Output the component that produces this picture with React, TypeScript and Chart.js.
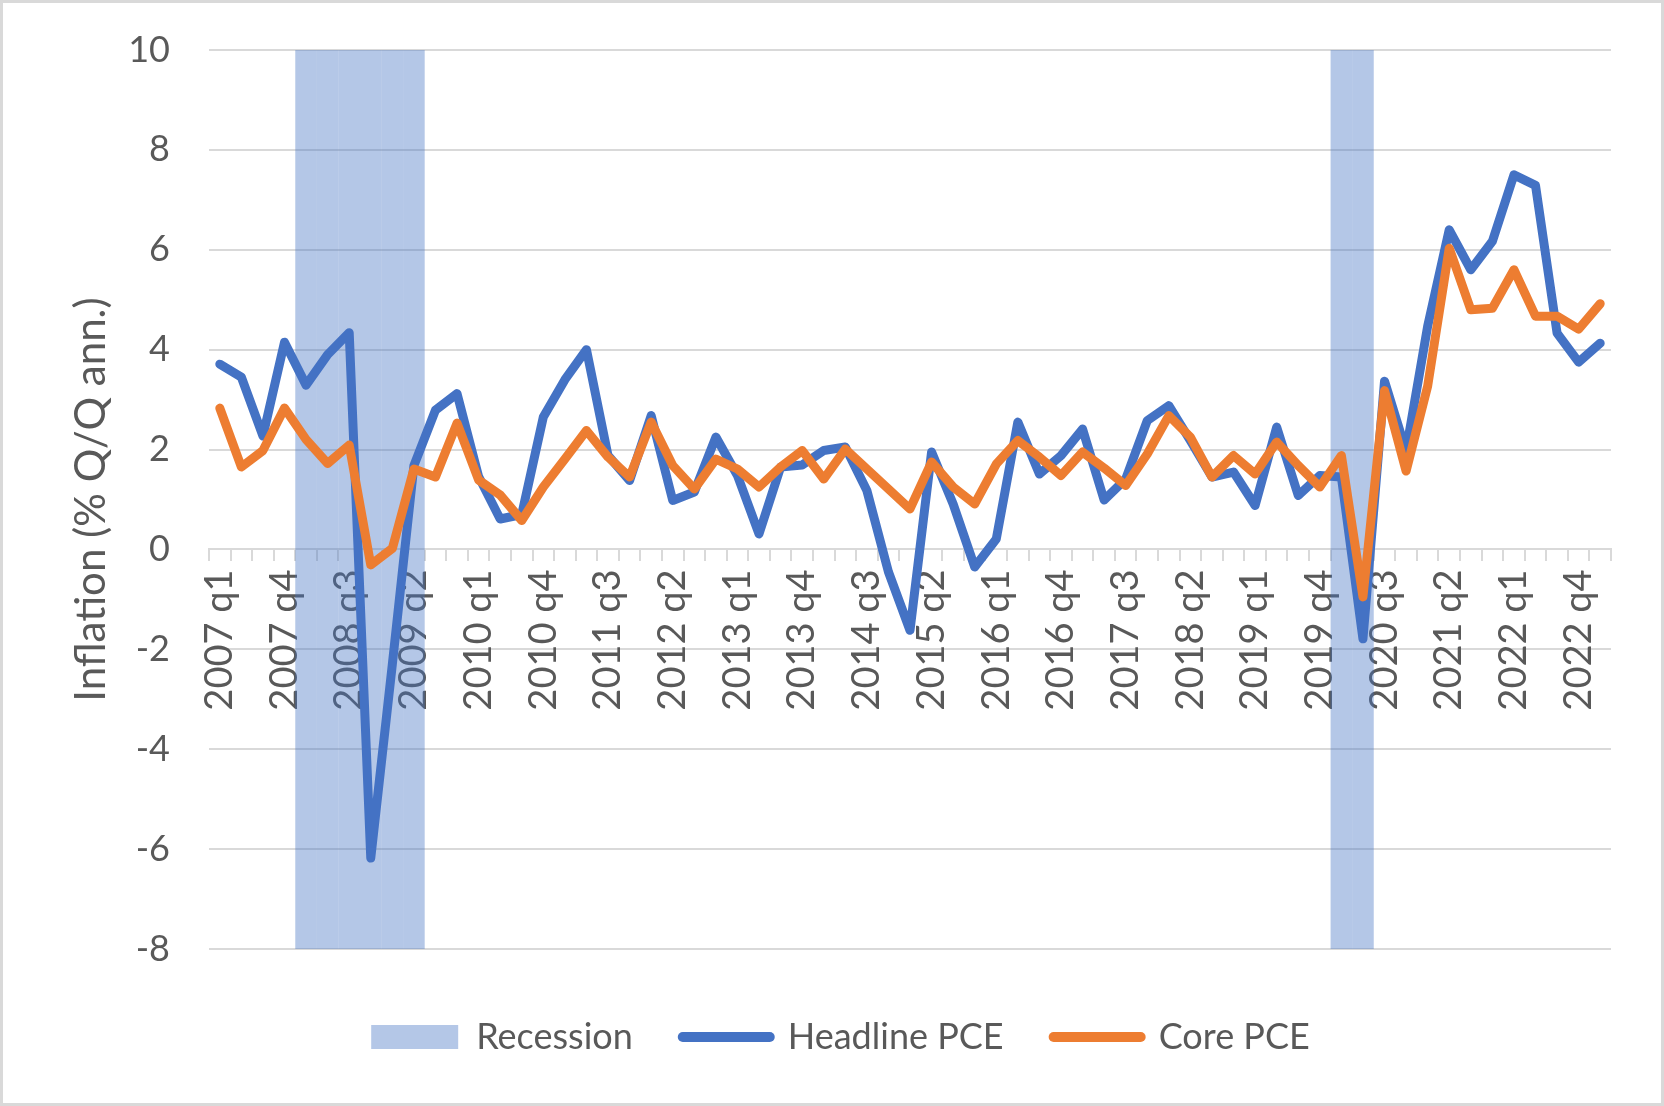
import React, { useEffect, useRef } from 'react';
import { Chart, registerables } from 'chart.js';

Chart.register(...registerables);

// ---------- data ----------
const QUARTERS: string[] = [
  '2007 q1', '2007 q2', '2007 q3', '2007 q4',
  '2008 q1', '2008 q2', '2008 q3', '2008 q4',
  '2009 q1', '2009 q2', '2009 q3', '2009 q4',
  '2010 q1', '2010 q2', '2010 q3', '2010 q4',
  '2011 q1', '2011 q2', '2011 q3', '2011 q4',
  '2012 q1', '2012 q2', '2012 q3', '2012 q4',
  '2013 q1', '2013 q2', '2013 q3', '2013 q4',
  '2014 q1', '2014 q2', '2014 q3', '2014 q4',
  '2015 q1', '2015 q2', '2015 q3', '2015 q4',
  '2016 q1', '2016 q2', '2016 q3', '2016 q4',
  '2017 q1', '2017 q2', '2017 q3', '2017 q4',
  '2018 q1', '2018 q2', '2018 q3', '2018 q4',
  '2019 q1', '2019 q2', '2019 q3', '2019 q4',
  '2020 q1', '2020 q2', '2020 q3', '2020 q4',
  '2021 q1', '2021 q2', '2021 q3', '2021 q4',
  '2022 q1', '2022 q2', '2022 q3', '2022 q4',
  '2023 q1',
];

const HEADLINE_PCE: number[] = [
  3.71, 3.45, 2.27, 4.15,
  3.29, 3.9, 4.34, -6.18,
  -2.3, 1.68, 2.79, 3.12,
  1.46, 0.61, 0.7, 2.65,
  3.4, 4.0, 1.88, 1.38,
  2.68, 0.98, 1.15, 2.25,
  1.48, 0.31, 1.65, 1.69,
  1.98, 2.05, 1.18, -0.45,
  -1.62, 1.95, 0.91, -0.35,
  0.21, 2.55, 1.51, 1.88,
  2.41, 0.99, 1.41, 2.58,
  2.88, 2.18, 1.45, 1.55,
  0.88, 2.45, 1.08, 1.48,
  1.45, -1.79, 3.37, 1.97,
  4.47, 6.4, 5.6, 6.17,
  7.5, 7.29, 4.33, 3.75,
  4.13,
];

const CORE_PCE: number[] = [
  2.83, 1.65, 1.98, 2.83,
  2.2, 1.72, 2.09, -0.31,
  0.02, 1.61, 1.45, 2.53,
  1.39, 1.09, 0.58, 1.25,
  1.81, 2.38, 1.85, 1.45,
  2.55, 1.68, 1.21, 1.81,
  1.61, 1.25, 1.65, 1.98,
  1.41, 2.01, 1.61, 1.21,
  0.81, 1.75, 1.25, 0.91,
  1.71, 2.18, 1.85, 1.48,
  1.95, 1.63, 1.28, 1.91,
  2.68, 2.25, 1.45, 1.88,
  1.51, 2.15, 1.68, 1.25,
  1.88, -0.95, 3.18, 1.57,
  3.27, 6.03, 4.8, 4.83,
  5.6, 4.67, 4.67, 4.41,
  4.92,
];

// 1 = quarter inside an NBER recession
const RECESSION: number[] = [
  0, 0, 0, 0,
  1, 1, 1, 1,
  1, 1, 0, 0,
  0, 0, 0, 0,
  0, 0, 0, 0,
  0, 0, 0, 0,
  0, 0, 0, 0,
  0, 0, 0, 0,
  0, 0, 0, 0,
  0, 0, 0, 0,
  0, 0, 0, 0,
  0, 0, 0, 0,
  0, 0, 0, 0,
  1, 1, 0, 0,
  0, 0, 0, 0,
  0, 0, 0, 0,
  0,
];

const Y_MIN = -8;
const Y_MAX = 10;
const Y_STEP = 2;
const LABEL_EVERY = 3;

const SERIES_NAMES = ['Recession', 'Headline PCE', 'Core PCE'];
const Y_TITLE = 'Inflation (% Q/Q ann.)';

// ---------- style ----------
const W = 1664;
const H = 1106;
const FONT = 'Lato, "Open Sans", "Noto Sans", sans-serif';
const TEXT = '#595959';
const GRID = '#d9d9d9';
const BLUE = '#4472C4';
const ORANGE = '#ED7D31';
const REC_FILL = 'rgba(68,114,196,0.4)';

const framePlugin = {
  id: 'frame',
  beforeDraw(chart: any) {
    const { ctx, width, height } = chart;
    ctx.save();
    ctx.fillStyle = '#ffffff';
    ctx.fillRect(0, 0, width, height);
    ctx.restore();
  },
  afterDraw(chart: any) {
    const { ctx, width, height } = chart;
    ctx.save();
    ctx.strokeStyle = GRID;
    ctx.lineWidth = 3;
    ctx.strokeRect(1.5, 1.5, width - 3, height - 3);
    ctx.restore();
  },
};

export default function App() {
  const canvasRef = useRef<HTMLCanvasElement | null>(null);

  useEffect(() => {
    const canvas = canvasRef.current;
    if (!canvas) return;
    const LEFT_PAD = 70;

    const chart = new Chart(canvas, {
      type: 'bar',
      data: {
        labels: QUARTERS,
        datasets: [
          {
            type: 'bar',
            label: SERIES_NAMES[0],
            data: RECESSION.map((f) => (f ? [Y_MIN, Y_MAX] : null)) as any,
            backgroundColor: REC_FILL,
            borderWidth: 0,
            inflateAmount: 0,
            barPercentage: 1,
            categoryPercentage: 1,
            order: 3,
          },
          {
            type: 'line',
            label: SERIES_NAMES[1],
            data: HEADLINE_PCE,
            borderColor: BLUE,
            backgroundColor: BLUE,
            borderWidth: 9,
            pointRadius: 0,
            pointHoverRadius: 0,
            tension: 0,
            borderJoinStyle: 'round',
            borderCapStyle: 'round',
            order: 2,
          },
          {
            type: 'line',
            label: SERIES_NAMES[2],
            data: CORE_PCE,
            borderColor: ORANGE,
            backgroundColor: ORANGE,
            borderWidth: 9,
            pointRadius: 0,
            pointHoverRadius: 0,
            tension: 0,
            borderJoinStyle: 'round',
            borderCapStyle: 'round',
            order: 1,
          },
        ],
      },
      options: {
        responsive: false,
        animation: false,
        devicePixelRatio: 1,
        layout: { padding: { left: LEFT_PAD, right: 53, top: 50, bottom: 41 } },
        scales: {
          x: {
            type: 'category',
            position: { y: 0 } as any,
            offset: true,
            grid: {
              display: true,
              drawOnChartArea: false,
              drawTicks: true,
              tickLength: 11,
              offset: true,
              color: GRID,
              lineWidth: 2,
            },
            border: { display: true, color: GRID, width: 2 },
            ticks: {
              autoSkip: false,
              minRotation: 90,
              maxRotation: 90,
              padding: 9,
              color: TEXT,
              font: { family: FONT, size: 38 },
              callback: (_v: any, i: number) => (i % LABEL_EVERY === 0 ? QUARTERS[i] : ''),
            },
          },
          y: {
            min: Y_MIN,
            max: Y_MAX,
            ticks: {
              stepSize: Y_STEP,
              padding: 28,
              color: TEXT,
              font: { family: FONT, size: 36 },
            },
            grid: {
              color: GRID,
              lineWidth: 2,
              drawTicks: true,
              tickLength: 11,
              tickColor: 'rgba(0,0,0,0)',
            },
            border: { display: false },
            title: {
              display: true,
              text: Y_TITLE,
              color: TEXT,
              font: { family: FONT, size: 42, lineHeight: 1 },
              padding: { top: 0, bottom: 0 },
            },
            afterFit: (scale: any) => {
              scale.width = 209 - LEFT_PAD;
            },
          },
        },
        plugins: {
          tooltip: { enabled: false },
          legend: {
            position: 'bottom',
            title: { display: true, text: '', font: { size: 10, lineHeight: 1.2 }, padding: { top: 8, bottom: 0 } },
            labels: {
              usePointStyle: true,
              pointStyleWidth: 87,
              boxHeight: 24,
              padding: 50,
              color: TEXT,
              font: { family: FONT, size: 36 },
              generateLabels: () => [
                {
                  text: SERIES_NAMES[0],
                  fillStyle: REC_FILL,
                  strokeStyle: REC_FILL,
                  lineWidth: 0,
                  pointStyle: 'rect',
                  fontColor: TEXT,
                  hidden: false,
                  datasetIndex: 0,
                },
                {
                  text: SERIES_NAMES[1],
                  fillStyle: BLUE,
                  strokeStyle: BLUE,
                  lineWidth: 10,
                  lineCap: 'round',
                  pointStyle: 'line',
                  fontColor: TEXT,
                  hidden: false,
                  datasetIndex: 1,
                },
                {
                  text: SERIES_NAMES[2],
                  fillStyle: ORANGE,
                  strokeStyle: ORANGE,
                  lineWidth: 10,
                  lineCap: 'round',
                  pointStyle: 'line',
                  fontColor: TEXT,
                  hidden: false,
                  datasetIndex: 2,
                },
              ] as any,
            },
          },
        },
      } as any,
      plugins: [framePlugin],
    });

    return () => chart.destroy();
  }, []);

  return (
    <div style={{ position: 'absolute', left: 0, top: 0, width: W, height: H }}>
      <canvas ref={canvasRef} width={W} height={H} style={{ display: 'block', width: W, height: H }} />
    </div>
  );
}
